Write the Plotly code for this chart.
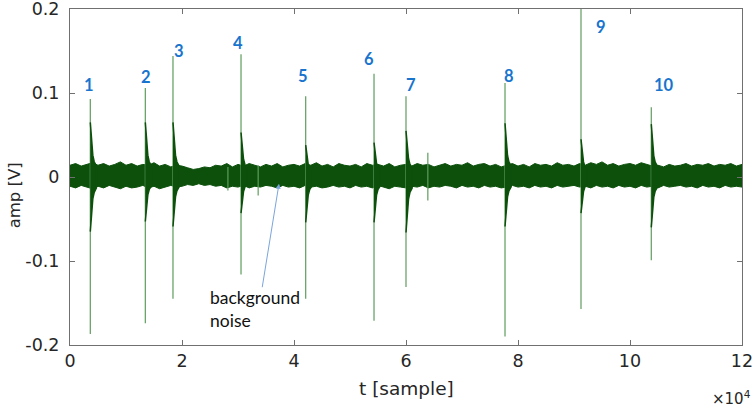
import plotly.graph_objects as go

# ---------------- data ----------------
# noise envelope sampled every 1000 samples (t = 0 ... 120000)
NOISE_T = list(range(0, 121000, 1000))
NOISE_HI = [
    0.014, 0.016, 0.013, 0.015, 0.017, 0.014, 0.016, 0.013, 0.015, 0.018,
    0.014, 0.016, 0.013, 0.015, 0.014, 0.017, 0.013, 0.015, 0.012, 0.014,
    0.013, 0.011, 0.009, 0.010, 0.012, 0.011, 0.014, 0.013, 0.016, 0.012,
    0.015, 0.013, 0.016, 0.014, 0.012, 0.015, 0.013, 0.016, 0.012, 0.014,
    0.015, 0.013, 0.016, 0.014, 0.017, 0.013, 0.015, 0.012, 0.016, 0.014,
    0.013, 0.015, 0.012, 0.016, 0.014, 0.015, 0.013, 0.016, 0.012, 0.014,
    0.015, 0.013, 0.016, 0.014, 0.015, 0.012, 0.014, 0.016, 0.013, 0.015,
    0.014, 0.017, 0.013, 0.015, 0.016, 0.013, 0.015, 0.012, 0.014, 0.016,
    0.013, 0.015, 0.012, 0.016, 0.014, 0.015, 0.013, 0.017, 0.014, 0.015,
    0.013, 0.016, 0.014, 0.017, 0.015, 0.018, 0.014, 0.016, 0.013, 0.015,
    0.016, 0.014, 0.017, 0.015, 0.013, 0.014, 0.012, 0.015, 0.013, 0.014,
    0.016, 0.013, 0.015, 0.014, 0.016, 0.013, 0.015, 0.014, 0.016, 0.013, 0.015,
]
NOISE_LO = [
    -0.011, -0.013, -0.010, -0.012, -0.014, -0.011, -0.013, -0.010, -0.012, -0.014,
    -0.011, -0.013, -0.012, -0.010, -0.013, -0.011, -0.014, -0.012, -0.010, -0.012,
    -0.011, -0.009, -0.010, -0.008, -0.010, -0.009, -0.011, -0.010, -0.013, -0.011,
    -0.012, -0.010, -0.013, -0.011, -0.012, -0.010, -0.011, -0.013, -0.010, -0.012,
    -0.011, -0.013, -0.010, -0.012, -0.011, -0.013, -0.012, -0.010, -0.012, -0.011,
    -0.013, -0.010, -0.012, -0.011, -0.013, -0.010, -0.012, -0.014, -0.011, -0.012,
    -0.013, -0.011, -0.012, -0.010, -0.013, -0.011, -0.012, -0.010, -0.011, -0.013,
    -0.010, -0.012, -0.011, -0.013, -0.010, -0.012, -0.011, -0.013, -0.012, -0.010,
    -0.012, -0.011, -0.013, -0.010, -0.012, -0.011, -0.013, -0.010, -0.012, -0.011,
    -0.010, -0.012, -0.011, -0.013, -0.010, -0.012, -0.011, -0.013, -0.010, -0.012,
    -0.011, -0.013, -0.010, -0.012, -0.011, -0.013, -0.010, -0.012, -0.011, -0.010,
    -0.012, -0.011, -0.013, -0.010, -0.012, -0.011, -0.013, -0.010, -0.012, -0.011, -0.012,
]

# acoustic events
EVENT_LABELS = ["1", "2", "3", "4", "5", "6", "7", "8", "9", "10"]
EVENT_T = [3625, 13450, 18390, 30540, 42090, 54290, 60000, 77680, 91250, 103800]
EVENT_PEAK = [0.093, 0.106, 0.144, 0.146, 0.096, 0.123, 0.096, 0.112, 0.215, 0.083]
EVENT_TROUGH = [-0.187, -0.174, -0.145, -0.116, -0.145, -0.171, -0.131, -0.190, -0.157, -0.099]
EVENT_BURST_HI = [0.065, 0.065, 0.065, 0.053, 0.038, 0.041, 0.055, 0.064, 0.045, 0.063]
EVENT_BURST_LO = [-0.065, -0.053, -0.059, -0.043, -0.054, -0.054, -0.066, -0.059, -0.043, -0.060]

# decay profile of a burst (sample offset after onset, fraction of burst amplitude)
BURST_OFFSET = [0, 250, 450, 700, 1100]
BURST_FRAC = [1.0, 0.7, 0.4, 0.28, 0.2]

# small blips in the noise
MINOR_T = [28200, 33600, 63900]
MINOR_HI = [0.012, 0.014, 0.029]
MINOR_LO = [-0.016, -0.022, -0.028]

# label positions (data coords)
LABEL_T = [3390, 13570, 19520, 30050, 41550, 53450, 60840, 78450, 94770, 106070]
LABEL_AMP = [0.110, 0.119, 0.150, 0.160, 0.120, 0.140, 0.110, 0.120, 0.179, 0.110]

X_TICKS = [0, 20000, 40000, 60000, 80000, 100000, 120000]
X_TICK_TEXT = ["0", "2", "4", "6", "8", "10", "12"]
Y_TICKS = [-0.2, -0.1, 0, 0.1, 0.2]
Y_TICK_TEXT = ["-0.2", "-0.1", "0", "0.1", "0.2"]

DARK = "#0c500c"
LIGHT = "#5e9c5e"
AX_FONT = "DejaVu Sans"

fig = go.Figure()

# background noise band
fig.add_trace(go.Scatter(
    x=NOISE_T + NOISE_T[::-1], y=NOISE_HI + NOISE_LO[::-1],
    fill="toself", fillcolor=DARK, line=dict(color=DARK, width=1),
    mode="lines", hoverinfo="skip", showlegend=False))

# thin spikes (main events + minor blips)
sx, sy = [], []
for t, p, q in zip(EVENT_T + MINOR_T, EVENT_PEAK + MINOR_HI, EVENT_TROUGH + MINOR_LO):
    sx += [t, t, None]
    sy += [q, p, None]
fig.add_trace(go.Scatter(x=sx, y=sy, mode="lines",
                         line=dict(color=LIGHT, width=1.2),
                         hoverinfo="skip", showlegend=False))

# dense decaying bursts after each event
for t, hi, lo in zip(EVENT_T, EVENT_BURST_HI, EVENT_BURST_LO):
    bx = [t + o for o in BURST_OFFSET]
    top = [hi * f for f in BURST_FRAC]
    bot = [lo * f for f in BURST_FRAC]
    fig.add_trace(go.Scatter(
        x=bx + bx[::-1], y=top + bot[::-1], fill="toself",
        fillcolor=DARK, line=dict(color=DARK, width=1.5),
        mode="lines", hoverinfo="skip", showlegend=False))

ann = []
for lab, t, a in zip(EVENT_LABELS, LABEL_T, LABEL_AMP):
    ann.append(dict(x=t, y=a, text=lab, showarrow=False, xanchor="center", yanchor="middle",
                    font=dict(family="Lato", size=16.5, color="#1874cd", weight="bold")))

ann.append(dict(x=37320, y=-0.008, ax=-17, ay=105, text="", showarrow=True,
                arrowhead=2, arrowsize=1, arrowwidth=1, arrowcolor="#7ba4dc"))
ann.append(dict(x=24640, y=-0.128, text="background<br>noise", showarrow=False,
                xanchor="left", yanchor="top", align="left",
                font=dict(family="Lato", size=17.5, color="#111111")))

ann.append(dict(xref="paper", yref="paper", x=-0.083, y=0.446, text="amp [V]", textangle=-90,
                showarrow=False, xanchor="center", yanchor="middle",
                font=dict(family=AX_FONT, size=16.5, color="#262626")))
ann.append(dict(xref="paper", yref="paper", x=0.5, y=-0.128, text="t [sample]",
                showarrow=False, xanchor="center", yanchor="middle",
                font=dict(family=AX_FONT, size=18.5, color="#262626")))
ann.append(dict(xref="paper", yref="paper", x=0.985, y=-0.158, text="×10<sup>4</sup>",
                showarrow=False, xanchor="center", yanchor="middle",
                font=dict(family=AX_FONT, size=15, color="#262626")))

axis_common = dict(showline=True, linecolor="#707070", linewidth=1, mirror="ticks",
                   ticks="inside", ticklen=5, tickcolor="#707070", showgrid=False,
                   zeroline=False, automargin=False, ticklabeloverflow="allow",
                   tickfont=dict(family=AX_FONT, size=17.5, color="#262626"))

fig.update_layout(
    width=753, height=411,
    margin=dict(l=70, r=11, t=9, b=66, autoexpand=False),
    paper_bgcolor="white", plot_bgcolor="white",
    xaxis=dict(range=[0, 120000], tickvals=X_TICKS, ticktext=X_TICK_TEXT, **axis_common),
    yaxis=dict(range=[-0.2, 0.20001], tickvals=Y_TICKS, ticktext=Y_TICK_TEXT,
               ticklabelstandoff=6, **axis_common),
    annotations=ann,
    showlegend=False,
)

fig.write_html("out.html", config={"displayModeBar": False},
               post_script="document.body.style.margin='0';document.body.style.overflow='hidden';")
